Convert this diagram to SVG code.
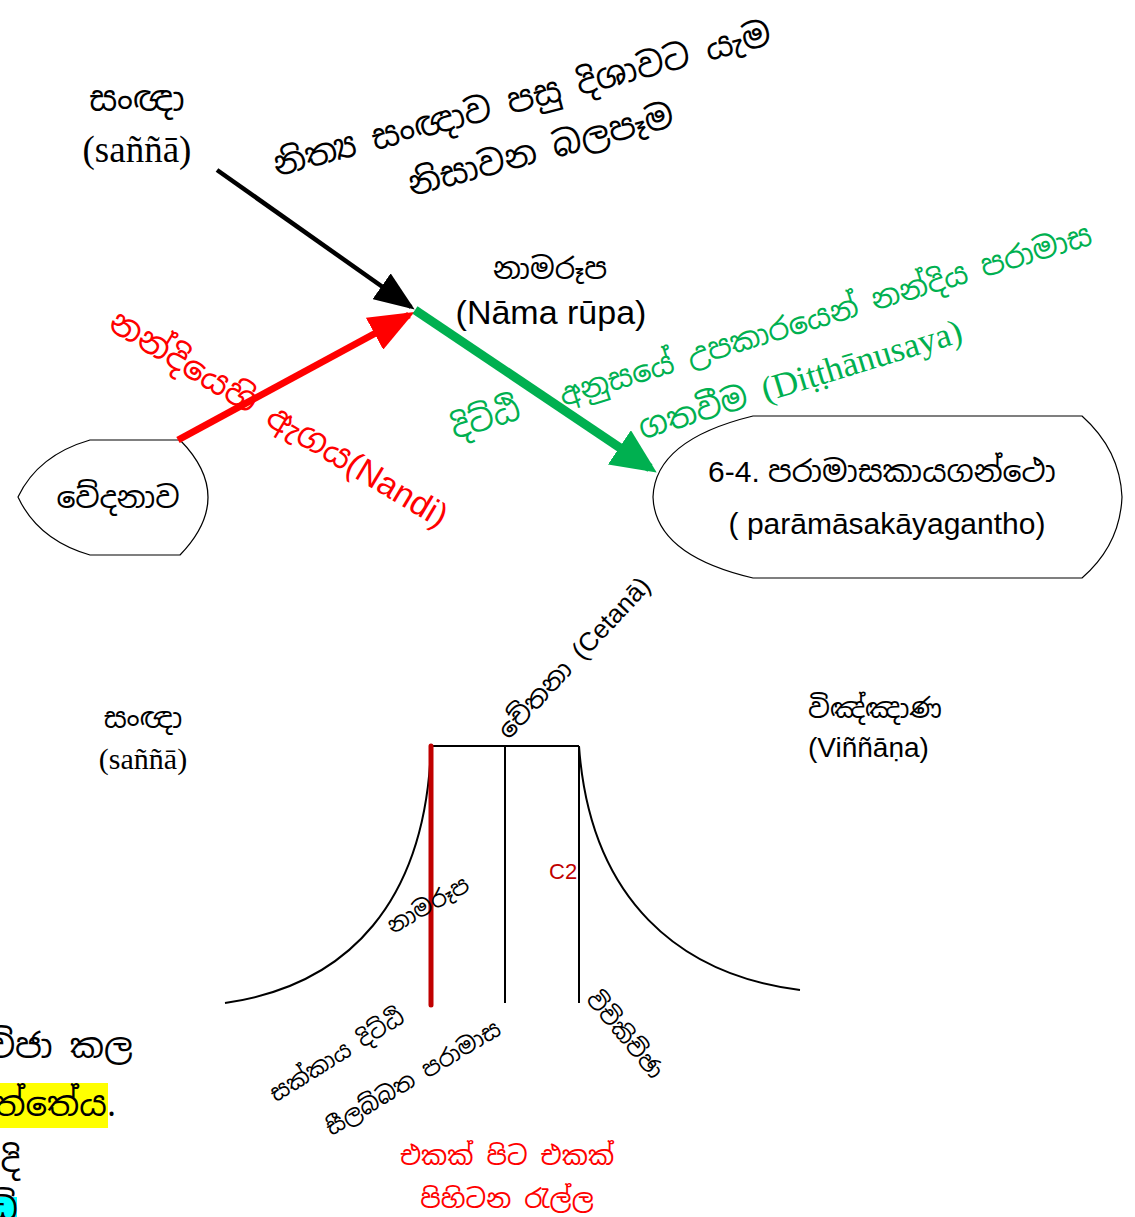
<svg xmlns="http://www.w3.org/2000/svg" width="1135" height="1217" viewBox="0 0 1135 1217">
<style>
.si{font-family:"Noto Sans Sinhala","Noto Serif Sinhala","Iskoola Pota","Liberation Sans",sans-serif;}
.sr{font-family:"Liberation Serif",serif;}
.ss{font-family:"Liberation Sans",sans-serif;}
.node{fill:#fff;stroke:#000;stroke-width:1.2;}
.ln{fill:none;stroke:#000;stroke-width:2;}
</style>
<defs>
<marker id="ak" markerWidth="9" markerHeight="7" refX="8" refY="3.5" orient="auto" markerUnits="strokeWidth"><path d="M0,0 L9,3.5 L0,7 Z" fill="#000"/></marker>
<marker id="ar" markerWidth="6.5" markerHeight="5.2" refX="5.6" refY="2.6" orient="auto" markerUnits="strokeWidth"><path d="M0,0 L6.5,2.6 L0,5.2 Z" fill="#ff0000"/></marker>
<marker id="ag" markerWidth="5" markerHeight="4.6" refX="4.1" refY="2.3" orient="auto" markerUnits="strokeWidth"><path d="M0,0 L5,2.3 L0,4.6 Z" fill="#00b050"/></marker>
</defs>
<rect width="1135" height="1217" fill="#fff"/>

<g id="node-vedana">
<path class="node" d="M90,440 L180,440 Q236,497 180,555 L90,555 Q38,540 18,497 Q38,455 90,440 Z"/>
<text class="si" x="118" y="508" font-size="30" text-anchor="middle">වේදනාව</text>
</g>

<g id="node-paramasa">
<path class="node" d="M753,416 L1082,416 Q1120,450 1122,497 Q1120,545 1082,578 L753,578 Q655,555 653,497 Q655,440 753,416 Z"/>
<text class="ss" x="882" y="482" font-size="30" text-anchor="middle">6-4. <tspan class="si">පරාමාසකායගන්ථො</tspan></text>
<text class="ss" x="887" y="534" font-size="30" text-anchor="middle">( parāmāsakāyagantho)</text>
</g>

<g id="node-sanna-top">
<text class="si" x="137" y="111" font-size="34" text-anchor="middle">සංඥා</text>
<text class="sr" x="137" y="162" font-size="37" text-anchor="middle">(saññā)</text>
</g>

<g id="node-namarupa">
<text class="si" x="550" y="279" font-size="29" text-anchor="middle">නාමරූප</text>
<text class="ss" x="551" y="324" font-size="34" text-anchor="middle">(Nāma rūpa)</text>
</g>

<g id="connectors">
<line x1="217" y1="170" x2="411" y2="307" stroke="#000" stroke-width="4.5" marker-end="url(#ak)"/>
<line x1="178" y1="440" x2="409" y2="315" stroke="#ff0000" stroke-width="7" marker-end="url(#ar)"/>
<line x1="415" y1="310" x2="650" y2="468" stroke="#00b050" stroke-width="9" marker-end="url(#ag)"/>
</g>

<g id="label-black">
<g transform="rotate(-15 527 118)">
<text class="si" x="527" y="110" font-size="34" text-anchor="middle">නිත්‍ය සංඥාව පසු දිශාවට යැම</text>
<text class="si" x="532" y="164" font-size="34" text-anchor="middle">නිසාවන බලපෑම</text>
</g>
</g>

<g id="label-red">
<text class="si" x="278" y="430" font-size="34" fill="#ff0000" text-anchor="middle" transform="rotate(31 278 420)">නන්දියෙහි ඇගය<tspan class="ss">(Nandi)</tspan></text>
</g>

<g id="label-green">
<g transform="rotate(-17 775 355)" fill="#00b050">
<text class="si" x="444" y="342" font-size="32">දිට්ඨි</text>
<text class="si" x="835" y="342" font-size="30" text-anchor="middle">අනුසයේ උපකාරයෙන් නන්දිය පරාමාස</text>
<text class="si" x="792" y="397" font-size="32" text-anchor="middle">ගතවීම <tspan class="sr" font-size="35">(Diṭṭhānusaya)</tspan></text>
</g>
</g>

<g id="node-cetana">
<text class="si" x="573" y="667" font-size="26" text-anchor="middle" transform="rotate(-47 573 657)">චේතනා <tspan class="ss">(Cetanā)</tspan></text>
</g>

<g id="node-sanna-bottom">
<text class="si" x="143" y="728" font-size="28" text-anchor="middle">සංඥා</text>
<text class="sr" x="143" y="769" font-size="30" text-anchor="middle">(saññā)</text>
</g>

<g id="node-vinnana">
<text class="si" x="808" y="718" font-size="27">විඤ්ඤාණ</text>
<text class="ss" x="808" y="757" font-size="28">(Viññāṇa)</text>
</g>

<g id="structure">
<line class="ln" x1="431" y1="746" x2="579" y2="746"/>
<line class="ln" x1="505" y1="746" x2="505" y2="1003"/>
<line class="ln" x1="579" y1="746" x2="579" y2="1003"/>
<path class="ln" d="M431,746 C426,900 350,985 225,1003"/>
<path class="ln" d="M579,746 C590,900 680,975 800,990"/>
<line x1="431" y1="746" x2="431" y2="1005" stroke="#c00000" stroke-width="5" stroke-linecap="round"/>
<text class="ss" x="549" y="879" font-size="22" fill="#c00000">C2</text>
<text class="si" x="428" y="913" font-size="23" text-anchor="middle" transform="rotate(-30 428 905)">නාමරූප</text>
<text class="si" x="337" y="1063" font-size="23" text-anchor="middle" transform="rotate(-32 337 1055)">සක්කාය දිට්ඨි</text>
<text class="si" x="413" y="1086" font-size="23" text-anchor="middle" transform="rotate(-31 413 1078)">සීලබ්බත පරාමාස</text>
<text class="si" x="625" y="1043" font-size="23" text-anchor="middle" transform="rotate(50 625 1035)">විචිකිච්ඡා</text>
<text class="si" x="507" y="1165" font-size="26" fill="#ff0000" text-anchor="middle">එකක් පිට එකක්</text>
<text class="si" x="507" y="1208" font-size="26" fill="#ff0000" text-anchor="middle">පිහිටන රැල්ල</text>
</g>

<g id="cut-text">
<rect x="0" y="1083" width="108" height="45" fill="#ffff00"/>
<rect x="0" y="1197" width="17" height="20" fill="#00ffff"/>
<text class="si" x="133" y="1058" font-size="34" text-anchor="end">විචිකිච්ජා කල</text>
<text class="si" x="116" y="1116" font-size="34" text-anchor="end">පවත්තේය.</text>
<text class="si" x="20" y="1172" font-size="34" text-anchor="end">දි</text>
<text class="si" x="18" y="1220" font-size="34" text-anchor="end">ධි</text>
</g>
</svg>
